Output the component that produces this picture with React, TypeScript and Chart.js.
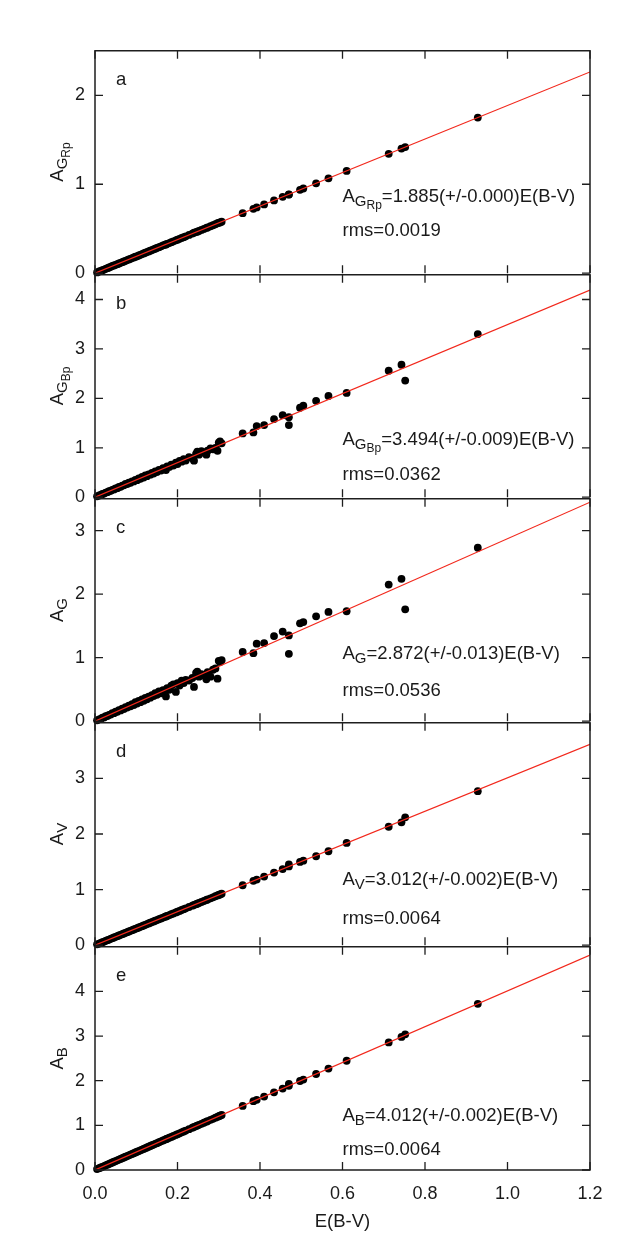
import React, { useEffect, useRef } from 'react';
import { Chart, registerables } from 'chart.js';

Chart.register(...registerables);

// ---------------- data ----------------
const ebv = [
  0.005, 0.010, 0.014, 0.018, 0.022, 0.026, 0.030, 0.034, 0.038, 0.042,
  0.046, 0.050, 0.054, 0.058, 0.062, 0.066, 0.070, 0.074, 0.078, 0.082,
  0.086, 0.090, 0.094, 0.098, 0.102, 0.106, 0.110, 0.114, 0.118, 0.122,
  0.126, 0.130, 0.134, 0.138, 0.142, 0.146, 0.150, 0.155, 0.160, 0.165,
  0.170, 0.172, 0.175, 0.180, 0.185, 0.190, 0.196, 0.200, 0.205, 0.210,
  0.215, 0.220, 0.228, 0.236, 0.240, 0.245, 0.248, 0.252, 0.258, 0.264,
  0.270, 0.273, 0.280, 0.286, 0.292, 0.297, 0.300, 0.303, 0.307,
  0.358, 0.384, 0.392, 0.410, 0.434, 0.455, 0.470, 0.470, 0.497, 0.505,
  0.536, 0.566, 0.610, 0.712, 0.743, 0.752, 0.928,
];

const aGRp = [
  0.009, 0.019, 0.026, 0.034, 0.041, 0.049, 0.057, 0.064, 0.072, 0.081,
  0.087, 0.094, 0.102, 0.109, 0.117, 0.124, 0.132, 0.139, 0.147, 0.155,
  0.162, 0.170, 0.177, 0.185, 0.190, 0.200, 0.207, 0.215, 0.222, 0.230,
  0.238, 0.245, 0.253, 0.260, 0.268, 0.275, 0.283, 0.292, 0.302, 0.313,
  0.320, 0.324, 0.330, 0.339, 0.349, 0.358, 0.369, 0.377, 0.386, 0.396,
  0.405, 0.415, 0.430, 0.445, 0.455, 0.462, 0.467, 0.475, 0.486, 0.498,
  0.509, 0.515, 0.528, 0.539, 0.550, 0.562, 0.566, 0.571, 0.579,
  0.675, 0.724, 0.739, 0.773, 0.818, 0.858, 0.886, 0.884, 0.937, 0.952,
  1.010, 1.067, 1.150, 1.342, 1.401, 1.418, 1.749,
];

const aGBp = [
  0.017, 0.036, 0.047, 0.066, 0.074, 0.093, 0.101, 0.122, 0.129, 0.150,
  0.158, 0.178, 0.183, 0.207, 0.210, 0.236, 0.240, 0.268, 0.266, 0.294,
  0.292, 0.322, 0.320, 0.352, 0.345, 0.380, 0.372, 0.410, 0.398, 0.440,
  0.426, 0.463, 0.455, 0.492, 0.480, 0.520, 0.508, 0.552, 0.540, 0.590,
  0.575, 0.548, 0.625, 0.612, 0.660, 0.640, 0.700, 0.672, 0.735, 0.718,
  0.770, 0.742, 0.810, 0.790, 0.740, 0.875, 0.920, 0.860, 0.930, 0.905,
  0.860, 0.940, 0.985, 0.970, 1.000, 0.940, 1.105, 1.130, 1.090,
  1.29, 1.31, 1.44, 1.46, 1.58, 1.66, 1.62, 1.46, 1.81, 1.85,
  1.95, 2.05, 2.11, 2.56, 2.68, 2.36, 3.30,
];

const aG = [
  0.013, 0.030, 0.038, 0.055, 0.060, 0.078, 0.082, 0.101, 0.104, 0.125,
  0.126, 0.150, 0.148, 0.172, 0.170, 0.198, 0.192, 0.222, 0.215, 0.246,
  0.235, 0.270, 0.255, 0.298, 0.278, 0.320, 0.300, 0.345, 0.320, 0.368,
  0.345, 0.385, 0.370, 0.410, 0.395, 0.440, 0.415, 0.470, 0.440, 0.490,
  0.470, 0.390, 0.520, 0.495, 0.560, 0.580, 0.460, 0.600, 0.560, 0.640,
  0.600, 0.650, 0.640, 0.680, 0.540, 0.760, 0.780, 0.700, 0.740, 0.720,
  0.660, 0.770, 0.700, 0.810, 0.830, 0.670, 0.950, 0.930, 0.960,
  1.09, 1.07, 1.22, 1.23, 1.34, 1.41, 1.35, 1.06, 1.54, 1.56,
  1.65, 1.72, 1.73, 2.15, 2.24, 1.76, 2.73,
];

const aV = [
  0.015, 0.030, 0.042, 0.054, 0.066, 0.078, 0.090, 0.102, 0.114, 0.127,
  0.139, 0.151, 0.163, 0.175, 0.187, 0.199, 0.211, 0.223, 0.235, 0.247,
  0.259, 0.271, 0.283, 0.295, 0.307, 0.319, 0.331, 0.343, 0.355, 0.367,
  0.380, 0.392, 0.404, 0.416, 0.428, 0.440, 0.452, 0.467, 0.482, 0.497,
  0.512, 0.518, 0.527, 0.542, 0.557, 0.572, 0.590, 0.602, 0.617, 0.633,
  0.648, 0.663, 0.687, 0.711, 0.723, 0.738, 0.747, 0.759, 0.777, 0.795,
  0.813, 0.822, 0.843, 0.861, 0.880, 0.895, 0.904, 0.913, 0.925,
  1.078, 1.157, 1.181, 1.235, 1.307, 1.370, 1.416, 1.452, 1.497, 1.521,
  1.600, 1.690, 1.840, 2.130, 2.210, 2.300, 2.770,
];

const aB = [
  0.020, 0.040, 0.056, 0.072, 0.088, 0.104, 0.120, 0.136, 0.152, 0.169,
  0.185, 0.201, 0.217, 0.233, 0.249, 0.265, 0.281, 0.297, 0.313, 0.329,
  0.345, 0.361, 0.377, 0.393, 0.409, 0.425, 0.441, 0.457, 0.473, 0.489,
  0.506, 0.522, 0.538, 0.554, 0.570, 0.586, 0.602, 0.622, 0.642, 0.662,
  0.682, 0.690, 0.702, 0.722, 0.742, 0.762, 0.786, 0.802, 0.822, 0.843,
  0.863, 0.883, 0.915, 0.947, 0.963, 0.983, 0.995, 1.011, 1.035, 1.059,
  1.083, 1.095, 1.123, 1.147, 1.172, 1.192, 1.204, 1.216, 1.232,
  1.436, 1.541, 1.573, 1.645, 1.741, 1.825, 1.886, 1.930, 1.994, 2.026,
  2.150, 2.271, 2.447, 2.857, 2.981, 3.040, 3.723,
];

const panelLetters = ['a', 'b', 'c', 'd', 'e'];
const symbolSubs = [['G', 'Rp'], ['G', 'Bp'], ['G'], ['V'], ['B']];
const fitSlopes = [1.885, 3.494, 2.872, 3.012, 4.012];
const fitErrors = ['0.000', '0.009', '0.013', '0.002', '0.002'];
const rmsValues = ['0.0019', '0.0362', '0.0536', '0.0064', '0.0064'];
const yMaxes = [2.5, 4.5, 3.5, 4, 5];
const yTicksA = [0, 1, 2];
const yTicksB = [0, 1, 2, 3, 4];
const yTicksC = [0, 1, 2, 3];
const yTicksD = [0, 1, 2, 3];
const yTicksE = [0, 1, 2, 3, 4];
const xTickValues = [0, 0.2, 0.4, 0.6, 0.8, 1.0, 1.2];
const xMin = 0;
const xMax = 1.2;
const labelX = 0.6;
const xTitle = 'E(B-V)';

const seriesValues = [aGRp, aGBp, aG, aV, aB];
const yTickSets = [yTicksA, yTicksB, yTicksC, yTicksD, yTicksE];

// ---------------- layout / style ----------------
const PAGE_W = 623;
const PAGE_H = 1246;
const PLOT_LEFT = 95;
const PLOT_RIGHT_PAD = 33;
const PANEL_TOPS = [50, 274, 498, 722, 946];
const PANEL_H = 224;
const CANVAS_PAD = 20;
const TICK_LEN = 8;
const EQ_OFFSETS = [71, 52, 62, 60, 49];
const RMS_OFFSETS = [37, 17, 25, 21, 15];
const Y_TITLE_X = 63;

const FONT_FAMILY = '"Liberation Sans", Arial, Helvetica, sans-serif';
const TEXT_COLOR = '#1a1a1a';
const AXIS_COLOR = '#1e1e1e';
const FIT_COLOR = '#f2281c';
const TICK_FONT = 18;
const LABEL_FONT = 18.5;
const SUB_FONT = 15;
const SUBSUB_FONT = 12;

type Part = { text: string; size: number; dy: number };

function font(size: number) {
  return `${size}px ${FONT_FAMILY}`;
}

function drawParts(ctx: CanvasRenderingContext2D, parts: Part[], x: number, y: number) {
  let cx = x;
  for (const p of parts) {
    ctx.font = font(p.size);
    ctx.fillText(p.text, cx, y + p.dy);
    cx += ctx.measureText(p.text).width;
  }
}

function partsWidth(ctx: CanvasRenderingContext2D, parts: Part[]) {
  let w = 0;
  for (const p of parts) {
    ctx.font = font(p.size);
    w += ctx.measureText(p.text).width;
  }
  return w;
}

function symbolParts(subs: string[]): Part[] {
  const out: Part[] = [{ text: 'A', size: LABEL_FONT, dy: 0 }];
  if (subs[0]) out.push({ text: subs[0], size: SUB_FONT, dy: 4 });
  if (subs[1]) out.push({ text: subs[1], size: SUBSUB_FONT, dy: 7 });
  return out;
}

function Panel({ i }: { i: number }) {
  const ref = useRef<HTMLCanvasElement | null>(null);
  const isLast = i === panelLetters.length - 1;
  const canvasTop = PANEL_TOPS[i] - CANVAS_PAD;
  const canvasH = isLast ? PAGE_H - canvasTop : PANEL_H + 2 * CANVAS_PAD;

  useEffect(() => {
    const canvas = ref.current;
    if (!canvas) return;
    const values = seriesValues[i];
    const slope = fitSlopes[i];
    const yTicks = yTickSets[i];

    const decor = {
      id: 'panelDecor' + i,
      afterDatasetsDraw(chart: any) {
        const ctx: CanvasRenderingContext2D = chart.ctx;
        const { left, right, top, bottom } = chart.chartArea;
        const xs = chart.scales.x;
        const ys = chart.scales.y;
        ctx.save();
        ctx.strokeStyle = AXIS_COLOR;
        ctx.lineWidth = 1.3;
        ctx.beginPath();
        for (const v of yTicks) {
          const py = ys.getPixelForValue(v);
          ctx.moveTo(left, py);
          ctx.lineTo(left + TICK_LEN, py);
          ctx.moveTo(right, py);
          ctx.lineTo(right - TICK_LEN, py);
        }
        for (const v of xTickValues) {
          const px = xs.getPixelForValue(v);
          ctx.moveTo(px, bottom);
          ctx.lineTo(px, bottom - TICK_LEN);
          ctx.moveTo(px, top);
          ctx.lineTo(px, top + TICK_LEN);
        }
        ctx.stroke();
        // frame: the bottom edge of upper panels is the top edge of the next one
        ctx.lineWidth = 1.5;
        ctx.beginPath();
        ctx.moveTo(left, bottom);
        ctx.lineTo(left, top);
        ctx.lineTo(right, top);
        ctx.lineTo(right, bottom);
        if (isLast) ctx.lineTo(left, bottom);
        ctx.stroke();

        ctx.fillStyle = TEXT_COLOR;
        ctx.textBaseline = 'alphabetic';
        ctx.textAlign = 'left';
        ctx.font = font(LABEL_FONT);
        ctx.fillText(panelLetters[i], left + 21, top + 34);

        const sym = symbolParts(symbolSubs[i]);
        const ex = xs.getPixelForValue(labelX);
        drawParts(
          ctx,
          [...sym, { text: `=${slope.toFixed(3)}(+/-${fitErrors[i]})E(B-V)`, size: LABEL_FONT, dy: 0 }],
          ex,
          bottom - EQ_OFFSETS[i]
        );
        ctx.font = font(LABEL_FONT);
        ctx.fillText(`rms=${rmsValues[i]}`, ex, bottom - RMS_OFFSETS[i]);

        const w = partsWidth(ctx, sym);
        ctx.translate(Y_TITLE_X, (top + bottom) / 2);
        ctx.rotate(-Math.PI / 2);
        drawParts(ctx, sym, -w / 2, 0);
        ctx.restore();
      },
    };

    const chart = new Chart(canvas, {
      type: 'scatter',
      data: {
        datasets: [
          {
            label: 'fit',
            data: [
              { x: xMin, y: slope * xMin },
              { x: xMax, y: slope * xMax },
            ],
            showLine: true,
            borderColor: FIT_COLOR,
            borderWidth: 1.2,
            pointRadius: 0,
            order: 0,
          },
          {
            label: 'stars',
            data: ebv.map((x, k) => ({ x, y: values[k] })),
            backgroundColor: '#000000',
            pointBackgroundColor: '#000000',
            pointBorderWidth: 0,
            borderWidth: 0,
            pointRadius: 3.9,
            order: 1,
            clip: false,
          } as any,
        ],
      },
      options: {
        animation: false,
        responsive: false,
        devicePixelRatio: 1,
        events: [],
        layout: {
          padding: { left: 0, right: PLOT_RIGHT_PAD, top: CANVAS_PAD, bottom: isLast ? 0 : CANVAS_PAD },
        },
        plugins: { legend: { display: false }, tooltip: { enabled: false } },
        scales: {
          x: {
            type: 'linear',
            position: 'bottom',
            min: xMin,
            max: xMax,
            display: isLast,
            grid: { display: false, drawTicks: false },
            border: { display: false },
            afterBuildTicks: (s: any) => {
              s.ticks = xTickValues.map((v) => ({ value: v }));
            },
            afterFit: (s: any) => {
              if (isLast) s.height = canvasH - CANVAS_PAD - PANEL_H;
            },
            ticks: {
              autoSkip: false,
              maxRotation: 0,
              padding: 13,
              color: TEXT_COLOR,
              font: { family: FONT_FAMILY, size: TICK_FONT },
              callback: (v: any) => Number(v).toFixed(1),
            },
            title: {
              display: true,
              text: xTitle,
              color: TEXT_COLOR,
              font: { family: FONT_FAMILY, size: LABEL_FONT },
              padding: { top: 4, bottom: 13 },
            },
          },
          y: {
            type: 'linear',
            position: 'left',
            min: 0,
            max: yMaxes[i],
            grid: { display: false, drawTicks: false },
            border: { display: false },
            afterBuildTicks: (s: any) => {
              s.ticks = yTicks.map((v) => ({ value: v }));
            },
            afterFit: (s: any) => {
              s.width = PLOT_LEFT;
            },
            ticks: {
              padding: 10,
              color: TEXT_COLOR,
              font: { family: FONT_FAMILY, size: TICK_FONT },
            },
          },
        },
      } as any,
      plugins: [decor],
    });
    return () => chart.destroy();
  }, [i]);

  return (
    <canvas
      ref={ref}
      width={PAGE_W}
      height={canvasH}
      style={{ position: 'absolute', left: 0, top: canvasTop, width: PAGE_W, height: canvasH }}
    />
  );
}

export default function App() {
  return (
    <div
      style={{
        position: 'absolute',
        left: 0,
        top: 0,
        width: PAGE_W,
        height: PAGE_H,
        background: '#ffffff',
        overflow: 'hidden',
      }}
    >
      {panelLetters.map((_, i) => (
        <Panel key={i} i={i} />
      ))}
    </div>
  );
}
